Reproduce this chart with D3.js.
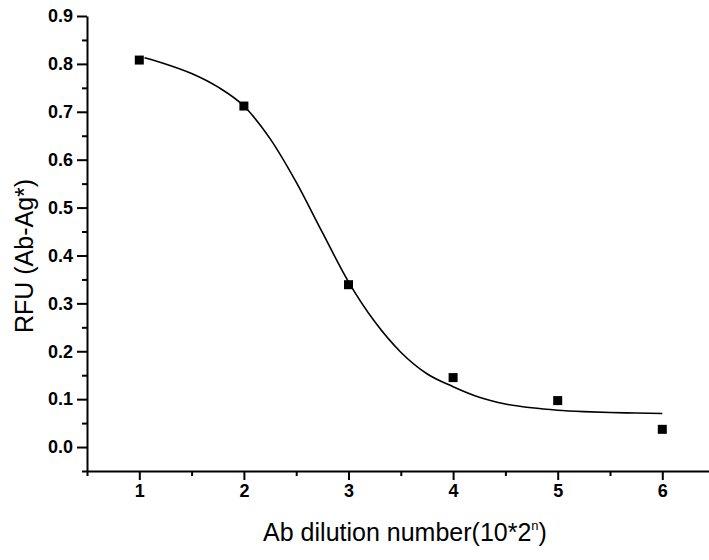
<!DOCTYPE html>
<html>
<head>
<meta charset="utf-8">
<script src="https://cdn.jsdelivr.net/npm/d3@7"></script>
<style>
  body { margin: 0; background: #fff; }
  svg { display: block; font-family: "Liberation Sans", Arial, sans-serif; }
  .axis path, .axis line { stroke: #000; stroke-width: 2; }
</style>
</head>
<body>
<svg class="chart"></svg>
<script>
// measured points
const dilution = [1, 2, 3, 4, 5, 6];
const rfu = [0.808, 0.712, 0.339, 0.145, 0.097, 0.037];

// fitted curve
const fitX = [1.05, 1.25, 1.5, 1.75, 2.0, 2.25, 2.5, 2.75, 3.0, 3.25, 3.5, 3.75, 4.0, 4.25, 4.5, 4.75, 5.0, 5.25, 5.5, 5.75, 6.0];
const fitY = [0.813, 0.800, 0.780, 0.752, 0.712, 0.644, 0.553, 0.448, 0.345, 0.262, 0.198, 0.153, 0.126, 0.104, 0.090, 0.082, 0.077, 0.074, 0.072, 0.071, 0.070];

const xTicks = [1, 2, 3, 4, 5, 6];
const xMinor = [0.5, 1.5, 2.5, 3.5, 4.5, 5.5];
const yTicks = [0.0, 0.1, 0.2, 0.3, 0.4, 0.5, 0.6, 0.7, 0.8, 0.9];
const yMinor = [-0.05, 0.05, 0.15, 0.25, 0.35, 0.45, 0.55, 0.65, 0.75, 0.85];

const width = 709, height = 560;

const svg = d3.select(".chart")
    .attr("width", width)
    .attr("height", height);

const x = d3.scaleLinear()
    .domain([0.5, 6.5])
    .range([87, 714.6]);

const y = d3.scaleLinear()
    .domain([-0.05, 0.9])
    .range([471, 16]);

// minor ticks first, no labels
svg.append("g")
    .attr("class", "axis")
    .attr("transform", `translate(0, ${y(-0.05)})`)
    .call(d3.axisBottom(x).tickValues(xMinor).tickSize(5).tickFormat(""))
    .select(".domain").remove();

svg.append("g")
    .attr("class", "axis")
    .attr("transform", `translate(${x(0.5)}, 0)`)
    .call(d3.axisLeft(y).tickValues(yMinor).tickSize(5).tickFormat(""))
    .select(".domain").remove();

const xAxis = svg.append("g")
    .attr("class", "axis")
    .attr("transform", `translate(0, ${y(-0.05)})`)
    .call(d3.axisBottom(x).tickValues(xTicks).tickSize(9).tickSizeOuter(0).tickPadding(4).tickFormat(d3.format("d")));

const yAxis = svg.append("g")
    .attr("class", "axis")
    .attr("transform", `translate(${x(0.5)}, 0)`)
    .call(d3.axisLeft(y).tickValues(yTicks).tickSize(10).tickSizeOuter(0).tickPadding(4).tickFormat(d3.format(".1f")));

[xAxis, yAxis].forEach(g => g.attr("font-family", null).attr("font-size", null)
    .selectAll("text")
    .style("font-size", "18px")
    .style("font-weight", "bold")
    .style("fill", "#000"));

// fitted curve
const line = d3.line()
    .x((d, i) => x(fitX[i]))
    .y(d => y(d))
    .curve(d3.curveMonotoneX);

svg.append("path")
    .datum(fitY)
    .attr("fill", "none")
    .attr("stroke", "#000")
    .attr("stroke-width", 1.6)
    .attr("d", line);

// square markers
const s = 9;
svg.selectAll(".dot")
    .data(dilution)
    .enter().append("rect")
    .attr("class", "dot")
    .attr("x", d => x(d) - s / 2)
    .attr("y", (d, i) => y(rfu[i]) - s / 2)
    .attr("width", s)
    .attr("height", s)
    .attr("fill", "#000");

// axis titles
const xt = svg.append("text")
    .attr("x", 405)
    .attr("y", 541)
    .attr("text-anchor", "middle")
    .attr("font-size", 25)
    .text("Ab dilution number(10*2");
xt.append("tspan")
    .attr("dy", -11)
    .attr("font-size", 13)
    .text("n");
xt.append("tspan")
    .attr("dy", 11)
    .text(")");

svg.append("text")
    .attr("transform", `translate(33, 256) rotate(-90)`)
    .attr("text-anchor", "middle")
    .attr("font-size", 25)
    .text("RFU (Ab-Ag*)");
</script>
</body>
</html>
